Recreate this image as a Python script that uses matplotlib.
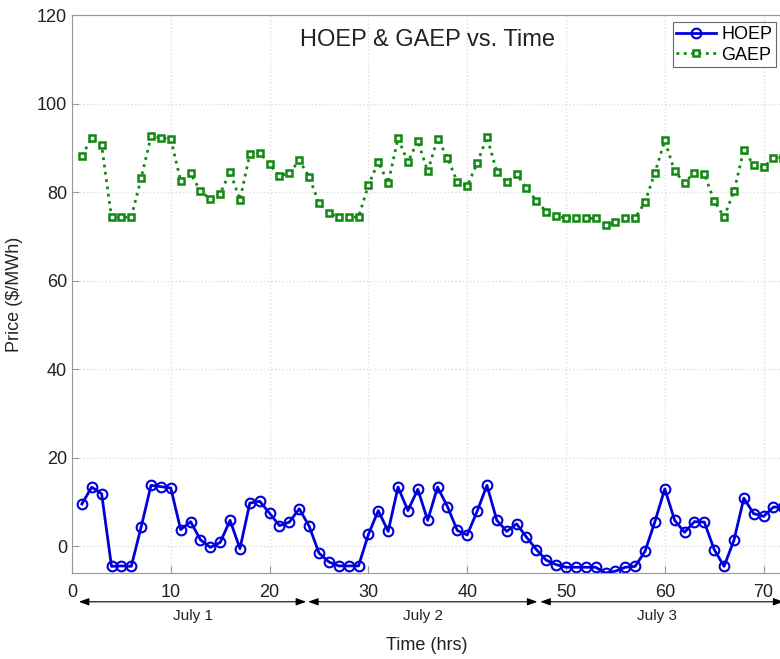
import matplotlib
matplotlib.use("Agg")
import matplotlib.pyplot as plt
import numpy as np

plt.rcParams['font.family'] = ['Liberation Sans', 'DejaVu Sans']

hours = list(range(1, 73))
hoep = [9.6, 13.4, 11.9, -4.5, -4.4, -4.5, 4.4, 13.8, 13.5, 13.2,
        3.8, 5.6, 1.5, -0.2, 0.9, 5.9, -0.5, 9.8, 10.2, 7.5,
        4.7, 5.5, 8.5, 4.6, -1.5, -3.5, -4.4, -4.4, -4.4, 2.7,
        8.1, 3.4, 13.4, 8.1, 12.9, 5.9, 13.4, 9.0, 3.6, 2.6,
        7.9, 13.8, 5.9, 3.4, 5.1, 2.1, -0.7, -3.1, -4.1, -4.7,
        -4.7, -4.7, -4.7, -6.0, -5.6, -4.7, -4.5, -1.1, 5.6, 13.0,
        5.9, 3.2, 5.6, 5.5, -0.7, -4.5, 1.4, 10.9, 7.4, 6.8,
        8.9, 8.8]
gaep = [88.3, 92.2, 90.6, 74.3, 74.4, 74.3, 83.2, 92.6, 92.3, 92.0,
        82.6, 84.3, 80.2, 78.5, 79.7, 84.6, 78.3, 88.6, 88.9, 86.3,
        83.7, 84.3, 87.2, 83.5, 77.5, 75.3, 74.4, 74.4, 74.4, 81.6,
        86.8, 82.1, 92.2, 86.8, 91.6, 84.7, 92.1, 87.8, 82.3, 81.4,
        86.5, 92.5, 84.6, 82.3, 84.1, 80.9, 78.1, 75.6, 74.6, 74.2,
        74.1, 74.1, 74.1, 72.6, 73.2, 74.2, 74.2, 77.8, 84.4, 91.7,
        84.7, 82.2, 84.4, 84.2, 78.0, 74.4, 80.2, 89.6, 86.1, 85.6,
        87.8, 87.8]

day_labels = ["July 1", "July 2", "July 3"]
day_spans = [(0.7, 23.7), (23.9, 47.1), (47.4, 72.0)]

fig = plt.figure(figsize=(7.8, 6.59), dpi=100)
ax = fig.add_axes([0.0923, 0.1305, 0.912, 0.8465])

ax.plot(hours, hoep, color='#0000dd', lw=2, marker='o', ms=7,
        mfc='none', mec='#0000dd', mew=1.5, label='HOEP')
ax.plot(hours, gaep, color='#118811', lw=2, ls=':', marker='s', ms=5,
        mfc='white', mec='#118811', mew=1.8, label='GAEP')

ax.set_xlim(0, 72)
ax.set_ylim(-6, 120)
ax.set_xticks(range(0, 71, 10))
ax.set_yticks(range(0, 121, 20))
ax.grid(True, color='#dddddd', ls=':', lw=1)
for s in ax.spines.values():
    s.set_color('#999999')
ax.tick_params(direction='in', colors='#999999', labelcolor='#222222',
               labelsize=13, length=5)
ax.tick_params(axis='x', pad=8)
ax.set_ylabel('Price ($/MWh)', fontsize=13, color='#222222', labelpad=10)
ax.text(0.5, 0.955, 'HOEP & GAEP vs. Time', transform=ax.transAxes,
        ha='center', va='center', fontsize=17, color='#222222')

fig.text(0.547, 1 - 646 / 659, 'Time (hrs)', ha='center', va='center',
         fontsize=13, color='#222222')

for (a, b), lab in zip(day_spans, day_labels):
    ax.annotate('', xy=(a, -12.5), xytext=(b, -12.5), xycoords='data',
                annotation_clip=False,
                arrowprops=dict(arrowstyle='<|-|>,head_length=0.6,head_width=0.22',
                                color='black', lw=0.8, shrinkA=0, shrinkB=0))
    ax.text((a + min(b, 71.0)) / 2, -15.7, lab, ha='center', va='center',
            fontsize=11, color='#222222', clip_on=False)

leg = ax.legend(loc='upper right', fontsize=13, frameon=True, fancybox=False,
                borderpad=0.2, handlelength=2.2, handletextpad=0.3,
                labelspacing=0.2, borderaxespad=0.4)
leg.get_frame().set_edgecolor('#444444')
leg.get_frame().set_linewidth(0.8)

fig.savefig('out.png', dpi=100)
